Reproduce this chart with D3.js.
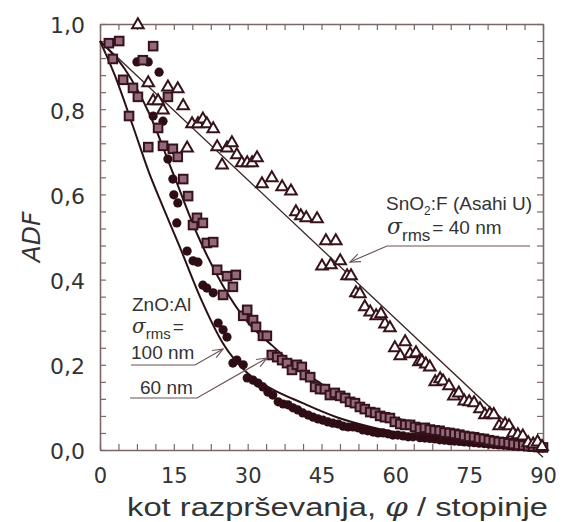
<!DOCTYPE html>
<html>
<head>
<meta charset="utf-8">
<script src="https://cdn.jsdelivr.net/npm/d3@7/dist/d3.min.js"></script>
<style>
  html, body { margin: 0; padding: 0; background: #fff; }
  svg { display: block; }
  text { font-family: "Liberation Sans", Arial, sans-serif; fill: #333; }
</style>
</head>
<body>
<svg id="chart" width="564" height="522"></svg>
<script>
// Angular distribution function (ADF) versus scattering angle

// Measured data: SnO2:F (Asahi U), triangles
const snoAngle = [7.7, 9.8, 10.8, 11.8, 12.8, 13.8, 15.8, 16.9, 17.7, 18.7, 19.9, 20.9, 21.7, 23.0, 23.8, 24.8, 25.8, 26.8, 27.8, 28.8, 29.9, 30.9, 31.9, 32.9, 34.9, 37.0, 38.8, 39.8, 40.8, 41.9, 44.1, 45.1, 45.9, 46.9, 47.9, 48.8, 50.2, 51.0, 52.0, 52.8, 53.8, 54.9, 56.1, 57.1, 57.9, 58.9, 59.9, 61.0, 62.0, 63.0, 64.2, 64.8, 65.4, 66.2, 67.0, 68.1, 69.1, 69.7, 70.9, 71.9, 72.9, 74.0, 75.0, 76.0, 77.2, 78.2, 79.2, 80.0, 81.1, 82.3, 83.1, 83.9, 84.9, 85.9, 87.0, 88.0, 88.9, 89.8];
const snoADF   = [1.0, 0.864, 0.822, 0.822, 0.800, 0.854, 0.850, 0.810, 0.711, 0.768, 0.768, 0.779, 0.768, 0.756, 0.714, 0.671, 0.711, 0.723, 0.695, 0.676, 0.676, 0.676, 0.688, 0.627, 0.641, 0.620, 0.610, 0.561, 0.552, 0.547, 0.545, 0.434, 0.493, 0.437, 0.493, 0.446, 0.411, 0.411, 0.371, 0.369, 0.338, 0.326, 0.317, 0.322, 0.298, 0.289, 0.242, 0.223, 0.256, 0.228, 0.230, 0.209, 0.211, 0.204, 0.197, 0.162, 0.169, 0.164, 0.153, 0.129, 0.136, 0.117, 0.115, 0.113, 0.099, 0.085, 0.087, 0.085, 0.059, 0.063, 0.059, 0.042, 0.038, 0.035, 0.019, 0.016, 0.021, 0.010];

// Measured data: ZnO:Al, squares
const sqAngle = [1.8, 2.6, 3.9, 4.7, 5.9, 6.7, 7.7, 8.7, 9.8, 10.8, 11.8, 12.8, 13.8, 14.8, 15.8, 16.9, 17.9, 18.9, 19.7, 20.9, 21.7, 23.0, 23.8, 25.0, 25.8, 27.0, 27.6, 29.1, 29.9, 31.1, 31.7, 33.1, 33.9, 34.9, 36.0, 37.0, 38.0, 39.0, 40.0, 41.0, 41.6, 42.7, 43.7, 44.7, 45.7, 46.7, 47.7, 48.8, 49.8, 50.8, 51.8, 52.8, 53.8, 54.9, 55.9, 56.9, 57.9, 58.9, 59.9, 61.0, 62.0, 63.0, 64.0, 65, 66, 67, 68, 69, 70, 71, 72, 73, 74, 75, 76, 77, 78, 79, 80, 81, 82, 83, 84, 85, 86, 87, 88, 89, 90];
const sqADF   = [0.955, 0.918, 0.960, 0.869, 0.784, 0.850, 0.829, 0.915, 0.711, 0.948, 0.756, 0.714, 0.829, 0.707, 0.688, 0.636, 0.596, 0.528, 0.545, 0.533, 0.486, 0.488, 0.423, 0.364, 0.408, 0.383, 0.411, 0.315, 0.329, 0.305, 0.289, 0.268, 0.268, 0.223, 0.218, 0.211, 0.204, 0.188, 0.200, 0.195, 0.176, 0.171, 0.148, 0.143, 0.143, 0.129, 0.134, 0.127, 0.122, 0.113, 0.110, 0.101, 0.096, 0.089, 0.087, 0.080, 0.077, 0.075, 0.066, 0.061, 0.059, 0.059, 0.054, 0.050, 0.052, 0.048, 0.046, 0.045, 0.041, 0.040, 0.038, 0.036, 0.033, 0.031, 0.030, 0.027, 0.026, 0.023, 0.021, 0.019, 0.018, 0.016, 0.014, 0.012, 0.011, 0.009, 0.008, 0.007, 0.006];

// Measured data: ZnO:Al, filled circles
const ciAngle = [7.5, 8.5, 9.8, 10.8, 12.0, 12.8, 13.8, 14.8, 15.0, 15.6, 15.8, 17.7, 18.9, 19.9, 20.9, 21.7, 23.0, 24.0, 25.0, 25.8, 27.0, 27.8, 29.1, 29.9, 31.1, 32.1, 33.1, 34.1, 35.1, 36.2, 37.2, 38.2, 39.2, 40.2, 41.2, 42.3, 43.3, 44.3, 45.3, 46.3, 47.3, 48.4, 49.4, 50.4, 51.4, 52.4, 53.4, 54.4, 55.5, 56.5, 57.5, 58.5, 59.5, 60.5, 61.6, 62.6, 63.6, 65, 66, 67, 68, 69, 70, 71, 72, 73, 74, 75, 76, 77, 78, 79, 80, 81, 82, 83, 84, 85, 86, 87, 88, 89, 90];
const ciADF   = [0.911, 0.915, 0.911, 0.784, 0.887, 0.772, 0.683, 0.636, 0.599, 0.533, 0.580, 0.467, 0.444, 0.441, 0.387, 0.380, 0.369, 0.298, 0.282, 0.265, 0.204, 0.211, 0.200, 0.169, 0.164, 0.157, 0.148, 0.136, 0.129, 0.113, 0.108, 0.106, 0.099, 0.094, 0.087, 0.082, 0.077, 0.073, 0.070, 0.066, 0.063, 0.061, 0.056, 0.054, 0.054, 0.052, 0.047, 0.045, 0.042, 0.040, 0.040, 0.038, 0.035, 0.035, 0.033, 0.031, 0.031, 0.029, 0.028, 0.027, 0.026, 0.024, 0.023, 0.022, 0.021, 0.020, 0.019, 0.018, 0.017, 0.016, 0.015, 0.014, 0.013, 0.012, 0.011, 0.010, 0.009, 0.008, 0.008, 0.007, 0.006, 0.006, 0.005];

// Model curves
const fitSnoAngle = [0, 90];
const fitSnoADF   = [0.96, -0.017];
const fit60Angle = [0, 5, 10, 15, 20, 25, 30, 35, 40, 45, 50, 55, 65, 75, 90];
const fit60ADF   = [0.96, 0.895, 0.79, 0.645, 0.50, 0.385, 0.30, 0.245, 0.195, 0.155, 0.118, 0.095, 0.059, 0.035, 0.008];
const fit100Angle = [0, 3, 6.7, 10, 12.2, 16.2, 20.3, 25, 30, 34.5, 41.2, 48.1, 55, 65, 75, 90];
const fit100ADF   = [0.96, 0.88, 0.76, 0.65, 0.587, 0.477, 0.36, 0.25, 0.18, 0.146, 0.110, 0.077, 0.054, 0.031, 0.018, 0.005];

// Axis ticks
const xMajorTicks = [0, 15, 30, 45, 60, 75, 90];
const yMajorTicks = [0, 0.2, 0.4, 0.6, 0.8, 1.0];

const svg = d3.select("#chart");
const x = d3.scaleLinear().domain([0, 90]).range([100, 543]);
const y = d3.scaleLinear().domain([0, 1]).range([450, 24]);

const frameColor = "#7d6666";
const markColor = "#36121a";
const wideFont = '"DejaVu Sans", Verdana, sans-serif';
const fmtComma = d3.formatLocale({ decimal: ",", thousands: ".", grouping: [3], currency: ["", ""] }).format(".1f");

const xMinor = d3.range(0, 90.001, 3.75);
const yMinor = d3.range(0, 1.0001, 0.04);

function styleAxis(g) {
  g.selectAll("path.domain").attr("stroke", frameColor).attr("stroke-width", 1.6);
  g.selectAll(".tick line").attr("stroke", frameColor).attr("stroke-width", 1.2);
  g.selectAll(".tick text").attr("fill", "#333").style("font-family", wideFont);
}

// Bottom axis with labels
const gx = svg.append("g").attr("transform", `translate(0,${y(0)})`)
  .call(d3.axisBottom(x).tickValues(xMinor).tickSize(-6).tickSizeOuter(0)
    .tickFormat(d => xMajorTicks.some(t => Math.abs(t - d) < 1e-6) ? d3.format("d")(d) : ""));
gx.selectAll(".tick text").attr("font-size", 21).attr("dy", "0").attr("y", 33);
styleAxis(gx);

// Top axis, ticks only
const gxt = svg.append("g").attr("transform", `translate(0,${y(1)})`)
  .call(d3.axisTop(x).tickValues(xMinor).tickSize(-6).tickSizeOuter(0).tickFormat(""));
styleAxis(gxt);

// Left axis with labels
const gy = svg.append("g").attr("transform", `translate(${x(0)},0)`)
  .call(d3.axisLeft(y).tickValues(yMinor).tickSize(-6).tickSizeOuter(0)
    .tickFormat(d => yMajorTicks.some(t => Math.abs(t - d) < 1e-6) ? fmtComma(d) : ""));
gy.selectAll(".tick text").attr("font-size", 22).attr("x", -15).attr("dy", "0.4em");
styleAxis(gy);

// Right axis, ticks only
const gyr = svg.append("g").attr("transform", `translate(${x(90)},0)`)
  .call(d3.axisRight(y).tickValues(yMinor).tickSize(-6).tickSizeOuter(0).tickFormat(""));
styleAxis(gyr);

// Axis titles (the x title is widened to span its full length)
const xt = svg.append("text").attr("text-anchor", "middle").attr("font-size", 26);
xt.append("tspan").text("kot razprševanja, ");
xt.append("tspan").attr("font-style", "italic").attr("font-family", '"DejaVu Serif", serif').text("φ");
xt.append("tspan").text(" / stopinje");
const xtWidth = xt.node().getComputedTextLength();
xt.attr("transform", `translate(337.5,516) scale(${421 / xtWidth},1)`);

svg.append("text").attr("transform", "translate(40,237) rotate(-90)")
  .attr("text-anchor", "middle").attr("font-size", 25).attr("font-style", "italic")
  .style("font-family", wideFont).text("ADF");

// Model curves
const line = d3.line().x(d => x(d[0])).y(d => y(d[1])).curve(d3.curveMonotoneX);
const zip = (a, b) => a.map((v, i) => [v, b[i]]);

svg.append("path").datum(zip(fitSnoAngle, fitSnoADF)).attr("d", line)
  .attr("fill", "none").attr("stroke", "#3a2424").attr("stroke-width", 1.3);
svg.append("path").datum(zip(fit60Angle, fit60ADF)).attr("d", line)
  .attr("fill", "none").attr("stroke", "#2a1214").attr("stroke-width", 2);
svg.append("path").datum(zip(fit100Angle, fit100ADF)).attr("d", line)
  .attr("fill", "none").attr("stroke", "#2a1214").attr("stroke-width", 2);

// Markers
svg.append("g").selectAll("circle").data(zip(ciAngle, ciADF)).join("circle")
  .attr("cx", d => x(d[0])).attr("cy", d => y(d[1])).attr("r", 4.6)
  .attr("fill", "#2e0d14");

svg.append("g").selectAll("rect").data(zip(sqAngle, sqADF)).join("rect")
  .attr("x", d => x(d[0]) - 4.3).attr("y", d => y(d[1]) - 4.3).attr("width", 8.6).attr("height", 8.6)
  .attr("fill", "#93697e").attr("stroke", markColor).attr("stroke-width", 2);

const tri = d3.symbol().type(d3.symbolTriangle).size(58);
svg.append("g").selectAll("path").data(zip(snoAngle, snoADF)).join("path")
  .attr("transform", d => `translate(${x(d[0])},${y(d[1]) + 1})`)
  .attr("d", tri).attr("fill", "#fff").attr("stroke", markColor).attr("stroke-width", 2);

// Annotations
const annColor = "#6b5555";
function leader(points) {
  svg.append("path").attr("d", d3.line()(points)).attr("fill", "none")
    .attr("stroke", annColor).attr("stroke-width", 1.2);
  const [p1, p0] = [points[points.length - 2], points[points.length - 1]];
  const ang = Math.atan2(p1[1] - p0[1], p1[0] - p0[0]);
  const len = 11, spread = 0.38;
  const a1 = [p0[0] + len * Math.cos(ang + spread), p0[1] + len * Math.sin(ang + spread)];
  const a2 = [p0[0] + len * Math.cos(ang - spread), p0[1] + len * Math.sin(ang - spread)];
  svg.append("path").attr("d", d3.line()([a1, p0, a2])).attr("fill", "none")
    .attr("stroke", annColor).attr("stroke-width", 1.2);
}

function sigmaLabel(xp, yp, rest, sigmaSize, subSize, subShift) {
  const t = svg.append("text").attr("x", xp).attr("y", yp).attr("font-size", 19);
  t.append("tspan").attr("font-family", '"DejaVu Serif", serif').attr("font-style", "italic").attr("font-size", sigmaSize).text("σ");
  t.append("tspan").attr("dy", subShift).attr("font-size", subSize).text("rms");
  t.append("tspan").attr("dy", -subShift).attr("dx", 2).text(rest);
}

// SnO2:F label
const sLab = svg.append("text").attr("x", 386).attr("y", 210).attr("font-size", 19);
sLab.append("tspan").text("SnO");
sLab.append("tspan").attr("dy", 5).attr("font-size", 12).text("2");
sLab.append("tspan").attr("dy", -5).text(":F (Asahi U)");
sigmaLabel(387, 234, "= 40 nm", 22, 17, 7);
leader([[530, 246], [387, 246], [350, 262]]);

// ZnO:Al labels
svg.append("text").attr("x", 132).attr("y", 311).attr("font-size", 19).text("ZnO:Al");
sigmaLabel(132, 333, "=", 20, 15, 6);
svg.append("text").attr("x", 131).attr("y", 359).attr("font-size", 19).text("100 nm");
leader([[131, 365], [195, 365], [223, 349]]);
svg.append("text").attr("x", 140).attr("y", 394).attr("font-size", 19).text("60 nm");
leader([[130, 398], [197, 398], [267, 358]]);
</script>
</body>
</html>
